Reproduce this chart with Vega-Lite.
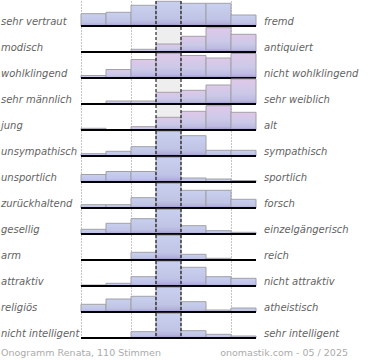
{
  "$schema": "https://vega.github.io/schema/vega-lite/v6.json",
  "padding": 0,
  "background": "white",
  "datasets": {
    "d": [
      {"row":1,"left":"sehr vertraut","right":"fremd","col":1,"v":12.3},
      {"row":1,"left":"sehr vertraut","right":"fremd","col":2,"v":13.7},
      {"row":1,"left":"sehr vertraut","right":"fremd","col":3,"v":20.7},
      {"row":1,"left":"sehr vertraut","right":"fremd","col":4,"v":24.7},
      {"row":1,"left":"sehr vertraut","right":"fremd","col":5,"v":22.7},
      {"row":1,"left":"sehr vertraut","right":"fremd","col":6,"v":22.7},
      {"row":1,"left":"sehr vertraut","right":"fremd","col":7,"v":11},
      {"row":2,"left":"modisch","right":"antiquiert","col":1,"v":0},
      {"row":2,"left":"modisch","right":"antiquiert","col":2,"v":0},
      {"row":2,"left":"modisch","right":"antiquiert","col":3,"v":2.7},
      {"row":2,"left":"modisch","right":"antiquiert","col":4,"v":8},
      {"row":2,"left":"modisch","right":"antiquiert","col":5,"v":15.7},
      {"row":2,"left":"modisch","right":"antiquiert","col":6,"v":24.3},
      {"row":2,"left":"modisch","right":"antiquiert","col":7,"v":17.7},
      {"row":3,"left":"wohlklingend","right":"nicht wohlklingend","col":1,"v":2.5},
      {"row":3,"left":"wohlklingend","right":"nicht wohlklingend","col":2,"v":8.5},
      {"row":3,"left":"wohlklingend","right":"nicht wohlklingend","col":3,"v":18.5},
      {"row":3,"left":"wohlklingend","right":"nicht wohlklingend","col":4,"v":24.7},
      {"row":3,"left":"wohlklingend","right":"nicht wohlklingend","col":5,"v":22.5},
      {"row":3,"left":"wohlklingend","right":"nicht wohlklingend","col":6,"v":20},
      {"row":3,"left":"wohlklingend","right":"nicht wohlklingend","col":7,"v":24.5},
      {"row":4,"left":"sehr männlich","right":"sehr weiblich","col":1,"v":0},
      {"row":4,"left":"sehr männlich","right":"sehr weiblich","col":2,"v":3},
      {"row":4,"left":"sehr männlich","right":"sehr weiblich","col":3,"v":3},
      {"row":4,"left":"sehr männlich","right":"sehr weiblich","col":4,"v":11.7},
      {"row":4,"left":"sehr männlich","right":"sehr weiblich","col":5,"v":13.7},
      {"row":4,"left":"sehr männlich","right":"sehr weiblich","col":6,"v":19},
      {"row":4,"left":"sehr männlich","right":"sehr weiblich","col":7,"v":25},
      {"row":5,"left":"\u2002jung","right":"alt","col":1,"v":1.7},
      {"row":5,"left":"\u2002jung","right":"alt","col":2,"v":0},
      {"row":5,"left":"\u2002jung","right":"alt","col":3,"v":3.3},
      {"row":5,"left":"\u2002jung","right":"alt","col":4,"v":12.7},
      {"row":5,"left":"\u2002jung","right":"alt","col":5,"v":18.7},
      {"row":5,"left":"\u2002jung","right":"alt","col":6,"v":24.3},
      {"row":5,"left":"\u2002jung","right":"alt","col":7,"v":17.7},
      {"row":6,"left":"unsympathisch","right":"sympathisch","col":1,"v":2.3},
      {"row":6,"left":"unsympathisch","right":"sympathisch","col":2,"v":4.7},
      {"row":6,"left":"unsympathisch","right":"sympathisch","col":3,"v":9.3},
      {"row":6,"left":"unsympathisch","right":"sympathisch","col":4,"v":24.7},
      {"row":6,"left":"unsympathisch","right":"sympathisch","col":5,"v":20.3},
      {"row":6,"left":"unsympathisch","right":"sympathisch","col":6,"v":5.7},
      {"row":6,"left":"unsympathisch","right":"sympathisch","col":7,"v":5.7},
      {"row":7,"left":"unsportlich","right":"sportlich","col":1,"v":7.5},
      {"row":7,"left":"unsportlich","right":"sportlich","col":2,"v":10.5},
      {"row":7,"left":"unsportlich","right":"sportlich","col":3,"v":10.5},
      {"row":7,"left":"unsportlich","right":"sportlich","col":4,"v":24.7},
      {"row":7,"left":"unsportlich","right":"sportlich","col":5,"v":4},
      {"row":7,"left":"unsportlich","right":"sportlich","col":6,"v":3},
      {"row":7,"left":"unsportlich","right":"sportlich","col":7,"v":1.5},
      {"row":8,"left":"zurückhaltend","right":"forsch","col":1,"v":3.3},
      {"row":8,"left":"zurückhaltend","right":"forsch","col":2,"v":3.3},
      {"row":8,"left":"zurückhaltend","right":"forsch","col":3,"v":10.3},
      {"row":8,"left":"zurückhaltend","right":"forsch","col":4,"v":24.7},
      {"row":8,"left":"zurückhaltend","right":"forsch","col":5,"v":17.7},
      {"row":8,"left":"zurückhaltend","right":"forsch","col":6,"v":17.7},
      {"row":8,"left":"zurückhaltend","right":"forsch","col":7,"v":8.7},
      {"row":9,"left":"gesellig","right":"einzelgängerisch","col":1,"v":4.7},
      {"row":9,"left":"gesellig","right":"einzelgängerisch","col":2,"v":10.7},
      {"row":9,"left":"gesellig","right":"einzelgängerisch","col":3,"v":15.3},
      {"row":9,"left":"gesellig","right":"einzelgängerisch","col":4,"v":24.7},
      {"row":9,"left":"gesellig","right":"einzelgängerisch","col":5,"v":8.3},
      {"row":9,"left":"gesellig","right":"einzelgängerisch","col":6,"v":3.3},
      {"row":9,"left":"gesellig","right":"einzelgängerisch","col":7,"v":1.7},
      {"row":10,"left":"arm","right":"reich","col":1,"v":0},
      {"row":10,"left":"arm","right":"reich","col":2,"v":0},
      {"row":10,"left":"arm","right":"reich","col":3,"v":7.7},
      {"row":10,"left":"arm","right":"reich","col":4,"v":24.7},
      {"row":10,"left":"arm","right":"reich","col":5,"v":5.7},
      {"row":10,"left":"arm","right":"reich","col":6,"v":1.7},
      {"row":10,"left":"arm","right":"reich","col":7,"v":0},
      {"row":11,"left":"attraktiv","right":"nicht attraktiv","col":1,"v":1},
      {"row":11,"left":"attraktiv","right":"nicht attraktiv","col":2,"v":2.7},
      {"row":11,"left":"attraktiv","right":"nicht attraktiv","col":3,"v":9.3},
      {"row":11,"left":"attraktiv","right":"nicht attraktiv","col":4,"v":24.7},
      {"row":11,"left":"attraktiv","right":"nicht attraktiv","col":5,"v":18.7},
      {"row":11,"left":"attraktiv","right":"nicht attraktiv","col":6,"v":9.3},
      {"row":11,"left":"attraktiv","right":"nicht attraktiv","col":7,"v":7.7},
      {"row":12,"left":"religiös","right":"atheistisch","col":1,"v":7.7},
      {"row":12,"left":"religiös","right":"atheistisch","col":2,"v":13},
      {"row":12,"left":"religiös","right":"atheistisch","col":3,"v":15.7},
      {"row":12,"left":"religiös","right":"atheistisch","col":4,"v":24.7},
      {"row":12,"left":"religiös","right":"atheistisch","col":5,"v":10.3},
      {"row":12,"left":"religiös","right":"atheistisch","col":6,"v":2},
      {"row":12,"left":"religiös","right":"atheistisch","col":7,"v":4},
      {"row":13,"left":"nicht intelligent","right":"sehr intelligent","col":1,"v":0},
      {"row":13,"left":"nicht intelligent","right":"sehr intelligent","col":2,"v":0},
      {"row":13,"left":"nicht intelligent","right":"sehr intelligent","col":3,"v":6.3},
      {"row":13,"left":"nicht intelligent","right":"sehr intelligent","col":4,"v":24.7},
      {"row":13,"left":"nicht intelligent","right":"sehr intelligent","col":5,"v":7.3},
      {"row":13,"left":"nicht intelligent","right":"sehr intelligent","col":6,"v":3.7},
      {"row":13,"left":"nicht intelligent","right":"sehr intelligent","col":7,"v":2}
    ]
  },
  "data": {"name": "d"},
  "facet": {
    "row": {
      "field": "left",
      "type": "nominal",
      "sort": {"field": "row", "op": "min", "order": "ascending"},
      "header": {"labels": false, "title": null, "labelPadding": 0, "titlePadding": 0}
    }
  },
  "spacing": 0,
  "bounds": "flush",
  "spec": {
    "width": 175,
    "height": 26,
    "layer": [
      {
        "transform": [{"filter": "datum.col == 1"}],
        "mark": {"type": "rect", "color": "#eeeeee"},
        "encoding": {
          "x": {"datum": 3.5, "type": "quantitative", "scale": {"domain": [0.5, 7.5], "nice": false, "zero": false, "padding": 0},
                "axis": {"values": [0.5, 1.5, 2.5, 5.5, 6.5, 7.5], "grid": true, "gridColor": "#8a8a8a", "gridDash": [1, 2], "gridWidth": 1, "labels": false, "ticks": false, "domain": false, "title": null}},
          "x2": {"datum": 4.5},
          "y": {"datum": 25, "type": "quantitative", "scale": {"domain": [-1, 25], "nice": false, "zero": false, "padding": 0}, "axis": null},
          "y2": {"datum": -1}
        }
      },
      {
        "transform": [{"filter": "datum.v > 0 && datum.row >= 2 && datum.row <= 5"}],
        "mark": {
          "type": "bar", "width": 25, "stroke": "#a0a0a8", "strokeWidth": 1,
          "fill": {"x1": 0, "y1": 0, "x2": 0, "y2": 1, "gradient": "linear",
                   "stops": [{"offset": 0, "color": "#dfc8e8"}, {"offset": 0.55, "color": "#ccc9e8"}, {"offset": 0.85, "color": "#bdbbe1"}, {"offset": 1, "color": "#a093c6"}]}
        },
        "encoding": {
          "x": {"field": "col", "type": "quantitative", "scale": {"domain": [0.5, 7.5], "nice": false, "zero": false, "padding": 0}},
          "y": {"field": "v", "type": "quantitative", "scale": {"domain": [-1, 25], "nice": false, "zero": false, "padding": 0}, "axis": null},
          "y2": {"datum": 0}
        }
      },
      {
        "transform": [{"filter": "datum.v > 0 && (datum.row < 2 || datum.row > 5)"}],
        "mark": {
          "type": "bar", "width": 25, "stroke": "#a0a0a8", "strokeWidth": 1,
          "fill": {"x1": 0, "y1": 0, "x2": 0, "y2": 1, "gradient": "linear",
                   "stops": [{"offset": 0, "color": "#c9d0ee"}, {"offset": 0.7, "color": "#c0c4e6"}, {"offset": 0.88, "color": "#b4b2dd"}, {"offset": 1, "color": "#a093c6"}]}
        },
        "encoding": {
          "x": {"field": "col", "type": "quantitative", "scale": {"domain": [0.5, 7.5], "nice": false, "zero": false, "padding": 0}},
          "y": {"field": "v", "type": "quantitative", "scale": {"domain": [-1, 25], "nice": false, "zero": false, "padding": 0}, "axis": null},
          "y2": {"datum": 0}
        }
      },
      {
        "transform": [{"filter": "datum.col == 1"}],
        "mark": {"type": "rule", "color": "black", "strokeWidth": 1, "strokeDash": [3, 2]},
        "encoding": {
          "x": {"datum": 3.5, "type": "quantitative", "scale": {"domain": [0.5, 7.5], "nice": false, "zero": false, "padding": 0}}
        }
      },
      {
        "transform": [{"filter": "datum.col == 1"}],
        "mark": {"type": "rule", "color": "black", "strokeWidth": 1, "strokeDash": [3, 2]},
        "encoding": {
          "x": {"datum": 4.5, "type": "quantitative", "scale": {"domain": [0.5, 7.5], "nice": false, "zero": false, "padding": 0}}
        }
      },
      {
        "transform": [{"filter": "datum.col == 1"}],
        "mark": {"type": "rule", "color": "black", "strokeWidth": 2},
        "encoding": {
          "y": {"datum": 0, "type": "quantitative", "scale": {"domain": [-1, 25], "nice": false, "zero": false, "padding": 0}}
        }
      },
      {
        "transform": [{"filter": "datum.col == 1"}],
        "mark": {"type": "text", "align": "left", "baseline": "alphabetic", "font": "DejaVu Sans", "fontStyle": "italic", "fontSize": 10, "color": "#636363"},
        "encoding": {
          "text": {"field": "left"},
          "x": {"datum": -2.7, "type": "quantitative", "scale": {"domain": [0.5, 7.5], "nice": false, "zero": false, "padding": 0}},
          "y": {"datum": 1.3, "type": "quantitative", "scale": {"domain": [-1, 25], "nice": false, "zero": false, "padding": 0}}
        }
      },
      {
        "transform": [{"filter": "datum.col == 1"}],
        "mark": {"type": "text", "align": "left", "baseline": "alphabetic", "font": "DejaVu Sans", "fontStyle": "italic", "fontSize": 10, "color": "#636363"},
        "encoding": {
          "text": {"field": "right"},
          "x": {"datum": 7.82, "type": "quantitative", "scale": {"domain": [0.5, 7.5], "nice": false, "zero": false, "padding": 0}},
          "y": {"datum": 1.3, "type": "quantitative", "scale": {"domain": [-1, 25], "nice": false, "zero": false, "padding": 0}}
        }
      },
      {
        "transform": [{"filter": "datum.col == 1 && datum.row == 13"}],
        "mark": {"type": "text", "align": "left", "baseline": "alphabetic", "font": "DejaVu Sans", "fontSize": 9.5, "color": "#ababab"},
        "encoding": {
          "text": {"value": "Onogramm Renata, 110 Stimmen"},
          "x": {"datum": -2.7, "type": "quantitative", "scale": {"domain": [0.5, 7.5], "nice": false, "zero": false, "padding": 0}},
          "y": {"datum": -18, "type": "quantitative", "scale": {"domain": [-1, 25], "nice": false, "zero": false, "padding": 0}}
        }
      },
      {
        "transform": [{"filter": "datum.col == 1 && datum.row == 13"}],
        "mark": {"type": "text", "align": "right", "baseline": "alphabetic", "font": "DejaVu Sans", "fontSize": 9.5, "color": "#ababab"},
        "encoding": {
          "text": {"value": "onomastik.com - 05 / 2025"},
          "x": {"datum": 11.18, "type": "quantitative", "scale": {"domain": [0.5, 7.5], "nice": false, "zero": false, "padding": 0}},
          "y": {"datum": -18, "type": "quantitative", "scale": {"domain": [-1, 25], "nice": false, "zero": false, "padding": 0}}
        }
      }
    ]
  },
  "config": {
    "view": {"stroke": null},
    "axis": {"labels": false, "ticks": false, "domain": false}
  }
}
